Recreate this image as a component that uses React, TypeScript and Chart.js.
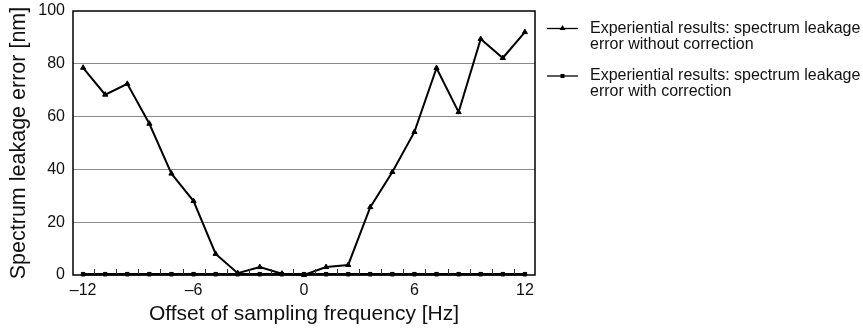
import React, { useEffect, useRef } from "react";
import { Chart, registerables } from "chart.js";

Chart.register(...registerables);

const offsets = [-12, -10.8, -9.6, -8.4, -7.2, -6, -4.8, -3.6, -2.4, -1.2, 0, 1.2, 2.4, 3.6, 4.8, 6, 7.2, 8.4, 9.6, 10.8, 12];
const withoutCorrection = [78.5, 68.3, 72.4, 57.3, 38.4, 28, 8, 0.7, 3, 0.5, 0, 3, 3.8, 25.7, 39, 54.2, 78.4, 61.7, 89.4, 82.2, 92];
const withCorrection = [0.3, 0.3, 0.3, 0.3, 0.3, 0.3, 0.3, 0.3, 0.3, 0.3, 0.3, 0.3, 0.3, 0.3, 0.3, 0.3, 0.3, 0.3, 0.3, 0.3, 0.3];
const xMajorTicks = [-12, -6, 0, 6, 12];
const xMinorTicks = [-11.4, -10.2, -9, -7.8, -6.6, -5.4, -4.2, -3, -1.8, -0.6, 0.6, 1.8, 3, 4.2, 5.4, 6.6, 7.8, 9, 10.2, 11.4];
const yTicks = [0, 20, 40, 60, 80, 100];
const legendLabels = [
  ["Experiential results: spectrum leakage", "error without correction"],
  ["Experiential results: spectrum leakage", "error with correction"],
];
const xTitle = "Offset of sampling frequency [Hz]";
const yTitle = "Spectrum leakage error [nm]";

const FONT = "'Liberation Sans', Arial, Helvetica, sans-serif";

const framePlugin = {
  id: "frame",
  afterDatasetsDraw(chart: any) {
    const { ctx, chartArea, scales } = chart;
    const xs = scales.x;
    ctx.save();
    ctx.strokeStyle = "#333";
    ctx.lineWidth = 1;
    ctx.beginPath();
    for (const v of xMinorTicks) {
      const px = Math.round(xs.getPixelForValue(v)) + 0.5;
      ctx.moveTo(px, chartArea.bottom);
      ctx.lineTo(px, chartArea.bottom - 6);
    }
    ctx.stroke();
    ctx.strokeStyle = "#000";
    ctx.lineWidth = 1.5;
    ctx.strokeRect(chartArea.left, chartArea.top, chartArea.right - chartArea.left, chartArea.bottom - chartArea.top);
    ctx.restore();
  },
  afterDraw(chart: any) {
    const { ctx, chartArea } = chart;
    ctx.save();
    const x0 = chartArea.right + 12;
    const lineW = 31;
    const textX = x0 + lineW + 12;
    let y = 28.5;
    chart.data.datasets.forEach((ds: any, i: number) => {
      ctx.strokeStyle = "#000";
      ctx.lineWidth = 1.3;
      ctx.beginPath();
      ctx.moveTo(x0, y);
      ctx.lineTo(x0 + lineW, y);
      ctx.stroke();
      ctx.fillStyle = "#000";
      const cx = x0 + lineW / 2;
      if (ds.pointStyle === "triangle") {
        ctx.beginPath();
        ctx.moveTo(cx, y - 3.5);
        ctx.lineTo(cx + 3, y + 1.5);
        ctx.lineTo(cx - 3, y + 1.5);
        ctx.closePath();
        ctx.fill();
      } else {
        ctx.fillRect(cx - 2, y - 2, 4, 4);
      }
      ctx.font = `16px ${FONT}`;
      ctx.textBaseline = "middle";
      ctx.textAlign = "left";
      ctx.fillStyle = "#111";
      legendLabels[i].forEach((t, j) => {
        ctx.fillText(t, textX, y + j * 16);
      });
      y += 47.5;
    });
    ctx.restore();
  },
};

export default function App() {
  const ref = useRef<HTMLCanvasElement>(null);
  useEffect(() => {
    if (!ref.current) return;
    const chart = new Chart(ref.current, {
      type: "line",
      data: {
        datasets: [
          {
            label: legendLabels[0].join(" "),
            data: offsets.map((x, i) => ({ x, y: withoutCorrection[i] })),
            borderColor: "#000",
            backgroundColor: "#000",
            borderWidth: 2,
            pointStyle: "triangle",
            pointRadius: 3,
            pointBorderWidth: 1,
            clip: false as any,
          },
          {
            label: legendLabels[1].join(" "),
            data: offsets.map((x, i) => ({ x, y: withCorrection[i] })),
            borderColor: "#000",
            backgroundColor: "#000",
            borderWidth: 2.5,
            pointStyle: "rect",
            pointRadius: 2.5,
            pointBorderWidth: 1,
            clip: false as any,
          },
        ],
      },
      options: {
        animation: false,
        responsive: false,
        maintainAspectRatio: false,
        layout: { padding: { top: 11, right: 328, left: 0, bottom: 0 } },
        plugins: { legend: { display: false }, tooltip: { enabled: false } },
        scales: {
          x: {
            type: "linear",
            min: -12.55,
            max: 12.55,
            afterBuildTicks: (s: any) => {
              s.ticks = xMajorTicks.map((v) => ({ value: v }));
            },
            afterFit: (s: any) => {
              s.height = 56;
              s.paddingLeft = 0;
              s.paddingRight = 0;
            },
            grid: { display: false, drawTicks: false },
            border: { display: false },
            ticks: {
              color: "#111",
              font: { family: FONT, size: 16 },
              padding: 6,
              maxRotation: 0,
              callback: (v: any) => (Number(v) < 0 ? "\u2013" + Math.abs(Number(v)) : String(v)),
            },
            title: {
              display: true,
              text: xTitle,
              color: "#111",
              font: { family: FONT, size: 21 },
              padding: { top: 0, bottom: 4 },
            },
          },
          y: {
            type: "linear",
            min: 0,
            max: 100,
            afterBuildTicks: (s: any) => {
              s.ticks = yTicks.map((v) => ({ value: v }));
            },
            afterFit: (s: any) => {
              s.width = 73;
              s.paddingTop = 0;
              s.paddingBottom = 0;
            },
            grid: {
              drawTicks: false,
              color: (c: any) => (c.tick && (c.tick.value === 0 || c.tick.value === 100) ? "rgba(0,0,0,0)" : "#8a8a8a"),
              lineWidth: 1,
            },
            border: { display: false },
            ticks: {
              color: "#111",
              font: { family: FONT, size: 16 },
              padding: 8,
            },
            title: {
              display: true,
              text: yTitle,
              color: "#111",
              font: { family: FONT, size: 21.5 },
              padding: { top: 6, bottom: 0 },
            },
          },
        },
      },
      plugins: [framePlugin],
    } as any);
    return () => chart.destroy();
  }, []);
  return (
    <div style={{ position: "fixed", left: 0, top: 0, width: 863, height: 331, background: "#fff" }}>
      <canvas ref={ref} width={863} height={331} style={{ width: 863, height: 331 }} />
    </div>
  );
}
